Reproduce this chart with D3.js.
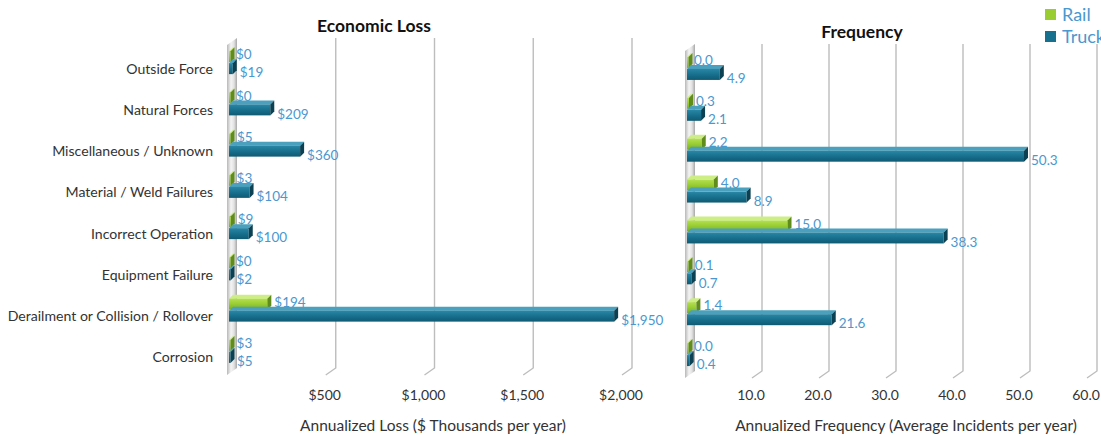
<!DOCTYPE html>
<html>
<head>
<meta charset="utf-8">
<script src="https://cdn.jsdelivr.net/npm/d3@7"></script>
<style>
  body { margin: 0; background: #fff; }
  svg text { font-family: Lato, "Open Sans", sans-serif; }
</style>
</head>
<body>
<svg id="chart" width="1101" height="437"></svg>
<script>
// data
var categories = ['Outside Force', 'Natural Forces', 'Miscellaneous / Unknown', 'Material / Weld Failures',
  'Incorrect Operation', 'Equipment Failure', 'Derailment or Collision / Rollover', 'Corrosion'];
var series = ['Rail', 'Truck'];
var lossRail = [0, 0, 5, 3, 9, 0, 194, 3];
var lossTruck = [19, 209, 360, 104, 100, 2, 1950, 5];
var freqRail = [0.0, 0.3, 2.2, 4.0, 15.0, 0.1, 1.4, 0.0];
var freqTruck = [4.9, 2.1, 50.3, 8.9, 38.3, 0.7, 21.6, 0.4];
var lossTicks = [500, 1000, 1500, 2000];
var freqTicks = [10, 20, 30, 40, 50, 60];

var svg = d3.select('#chart');
var defs = svg.append('defs');

var labelColor = '#4a98cf';
var depth = 4;

function grad(id, stops, vertical) {
  var g = defs.append('linearGradient').attr('id', id)
    .attr('x1', 0).attr('y1', 0)
    .attr('x2', vertical ? 0 : 1).attr('y2', vertical ? 1 : 0);
  stops.forEach(function(s) {
    g.append('stop').attr('offset', s[0]).attr('stop-color', s[1]);
  });
}
grad('railFront', [[0, '#b4e04f'], [0.5, '#98cc34'], [1, '#7aae22']], true);
grad('truckFront', [[0, '#2a87a5'], [0.5, '#17708e'], [1, '#0f5a72']], true);
grad('wall', [[0, '#b8b8b8'], [0.4, '#f4f4f4'], [0.7, '#e2e2e2'], [1, '#a8a8a8']], false);

var colors = {
  Rail: { front: 'url(#railFront)', top: '#cdee85', side: '#5f8c1a' },
  Truck: { front: 'url(#truckFront)', top: '#4aa0bd', side: '#0b4152' }
};

function panel(opts) {
  var x = d3.scaleLinear().domain([0, opts.max]).range([opts.x0, opts.x1]);
  var y = d3.scaleBand().domain(categories).range([opts.yTop + 4, opts.yBot + 4]);
  var barH = 11;
  var g = svg.append('g');

  // side wall
  var x0 = x(0);
  g.append('polygon')
    .attr('points', [[x0 + 8, opts.yTop], [x0 + 8, opts.yBot], [x0 - 2, opts.yBot + 7], [x0 - 2, opts.yTop + 7]].join(' '))
    .attr('fill', 'url(#wall)');

  // gridlines with floor slant
  g.selectAll('.grid').data(opts.ticks).enter().append('path')
    .attr('d', function(d) {
      var gx = x(d) + 8;
      return 'M' + gx + ',' + opts.yTop + 'V' + opts.yBot + 'L' + (gx - 10) + ',' + (opts.yBot + 7);
    })
    .attr('fill', 'none').attr('stroke', '#bdbdbd').attr('stroke-width', 1.4);

  // tick labels
  g.selectAll('.tick').data(opts.ticks).enter().append('text')
    .attr('x', function(d) { return x(d) - 3; })
    .attr('y', 400)
    .attr('text-anchor', 'middle')
    .attr('font-size', 14).attr('fill', '#333')
    .text(opts.tickFormat);

  // bars
  var rows = [];
  categories.forEach(function(c, i) {
    var cy = y(c) + y.bandwidth() / 2;
    rows.push({ s: 'Rail', v: opts.rail[i], top: cy - barH - 0.5, i: i });
    rows.push({ s: 'Truck', v: opts.truck[i], top: cy + 0.5, i: i });
  });

  var bars = g.selectAll('.bar').data(rows).enter().append('g');
  bars.append('polygon')
    .attr('points', function(d) {
      var xa = x(0), xb = Math.max(x(d.v), xa + 1.5);
      return [[xa, d.top], [xb, d.top], [xb + depth, d.top - depth], [xa + depth, d.top - depth]].join(' ');
    })
    .attr('fill', function(d) { return colors[d.s].top; });
  bars.append('rect')
    .attr('x', x(0))
    .attr('y', function(d) { return d.top; })
    .attr('width', function(d) { return Math.max(x(d.v) - x(0), 1.5); })
    .attr('height', barH)
    .attr('fill', function(d) { return colors[d.s].front; });
  bars.append('polygon')
    .attr('points', function(d) {
      var xb = Math.max(x(d.v), x(0) + 1.5);
      return [[xb, d.top], [xb + depth, d.top - depth], [xb + depth, d.top + barH - depth], [xb, d.top + barH]].join(' ');
    })
    .attr('fill', function(d) { return colors[d.s].side; });

  bars.append('text')
    .attr('x', function(d) { return x(d.v) + depth + 3; })
    .attr('y', function(d) { return d.top + barH / 2 + (d.s === 'Rail' ? -2 : 4); })
    .attr('dy', '0.35em')
    .attr('font-size', 13.5).attr('fill', labelColor)
    .text(function(d) { return opts.valueFormat(d.v); });

  // title and axis title
  svg.append('text').attr('x', opts.titleX).attr('y', opts.titleY)
    .attr('text-anchor', 'middle').attr('font-size', 17.5).attr('font-weight', 'bold').attr('fill', '#111')
    .text(opts.title);
  svg.append('text').attr('x', opts.axisTitleX).attr('y', 431)
    .attr('text-anchor', 'middle').attr('font-size', 15.5).attr('fill', '#333')
    .text(opts.axisTitle);

  return { x: x, y: y };
}

var left = panel({
  max: 2000, x0: 229, x1: 624, yTop: 38, yBot: 368,
  rail: lossRail, truck: lossTruck, ticks: lossTicks,
  tickFormat: function(d) { return '$' + d3.format(',')(d); },
  valueFormat: function(d) { return '$' + d3.format(',')(d); },
  title: 'Economic Loss', titleX: 374, titleY: 32,
  axisTitle: 'Annualized Loss ($ Thousands per year)', axisTitleX: 433
});

panel({
  max: 60, x0: 687, x1: 1089, yTop: 44, yBot: 371,
  rail: freqRail, truck: freqTruck, ticks: freqTicks,
  tickFormat: d3.format('.1f'),
  valueFormat: d3.format('.1f'),
  title: 'Frequency', titleX: 862, titleY: 38,
  axisTitle: 'Annualized Frequency (Average Incidents per year)', axisTitleX: 906
});

// category labels
svg.selectAll('.cat').data(categories).enter().append('text')
  .attr('x', 213)
  .attr('y', function(d) { return left.y(d) + left.y.bandwidth() / 2 + 6; })
  .attr('dy', '0.35em')
  .attr('text-anchor', 'end')
  .attr('font-size', 14.1).attr('fill', '#333')
  .text(function(d) { return d; });

// legend
var legend = svg.append('g').selectAll('g').data(series).enter().append('g')
  .attr('transform', function(d, i) { return 'translate(1045,' + (9 + i * 22) + ')'; });
legend.append('rect').attr('width', 11).attr('height', 11)
  .attr('fill', function(d) { return d === 'Rail' ? '#9acd32' : '#17708e'; });
legend.append('text').attr('x', 17).attr('y', 6).attr('dy', '0.35em')
  .attr('font-size', 18).attr('fill', labelColor)
  .text(function(d) { return d; });
</script>
</body>
</html>
